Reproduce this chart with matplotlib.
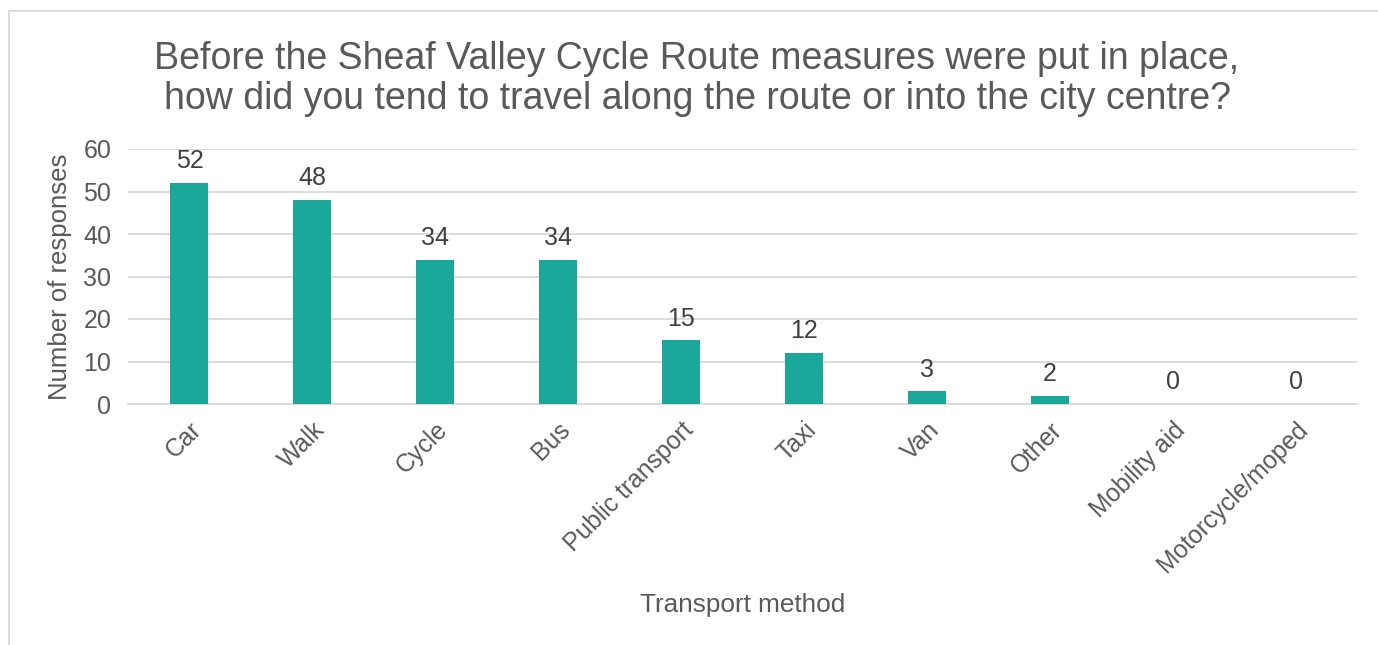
import matplotlib
matplotlib.use("Agg")
import matplotlib.pyplot as plt
from matplotlib.patches import Rectangle

categories = ["Car", "Walk", "Cycle", "Bus", "Public transport", "Taxi", "Van",
              "Other", "Mobility aid", "Motorcycle/moped"]
values = [52, 48, 34, 34, 15, 12, 3, 2, 0, 0]
yticks = [0, 10, 20, 30, 40, 50, 60]

plt.rcParams['font.family'] = ['Liberation Sans', 'DejaVu Sans']
TXT = "#595959"

fig = plt.figure(figsize=(13.78, 6.45), dpi=100)
W, H = 1378, 645
ax = fig.add_axes([128 / W, 1 - 404 / H, (1357 - 128) / W, (404 - 149) / H])

x = list(range(len(categories)))
ax.bar(x, values, width=0.31, color="#1BA89A", zorder=3)
ax.set_xlim(-0.5, len(categories) - 0.5)
ax.set_ylim(0, 60)
ax.set_yticks(yticks)
ax.grid(axis="y", color="#d9d9d9", linewidth=1.3, zorder=0)
for s in ["top", "right", "left"]:
    ax.spines[s].set_visible(False)
ax.spines["bottom"].set_color("#d9d9d9")
ax.spines["bottom"].set_linewidth(1.3)
ax.tick_params(axis="both", length=0, colors=TXT)
ax.tick_params(axis="y", pad=12, labelsize=18)
ax.set_xticks(x)
ax.set_xticklabels(categories, rotation=45, ha="right", rotation_mode="anchor")
ax.tick_params(axis="x", pad=10, labelsize=17.8)

for xi, v in zip(x, values):
    ax.annotate(str(v), (xi, v), xytext=(0, 7), textcoords="offset points",
                ha="center", va="bottom", fontsize=18, color="#404040")

ax.set_ylabel("Number of responses", fontsize=18.5, color=TXT)
ax.yaxis.set_label_coords(-(128 - 60) / (1357 - 128), 0.5)
ax.set_xlabel("Transport method", fontsize=18.8, color=TXT)
ax.xaxis.set_label_coords((743 - 128) / (1357 - 128), -(605 - 404) / (404 - 149))
ax.xaxis.label.set_va("center")
ax.yaxis.label.set_va("center")

fig.text(697 / W, 1 - 79 / H,
         "Before the Sheaf Valley Cycle Route measures were put in place,\nhow did you tend to travel along the route or into the city centre?",
         ha="center", va="center", fontsize=27, color=TXT, linespacing=1.15)

fig.patches.append(Rectangle((9 / W, -0.01), 1.0, 1 - 11 / H + 0.01,
                             transform=fig.transFigure, fill=False,
                             edgecolor="#d9d9d9", linewidth=1.3))

fig.savefig("out.png", dpi=100)
